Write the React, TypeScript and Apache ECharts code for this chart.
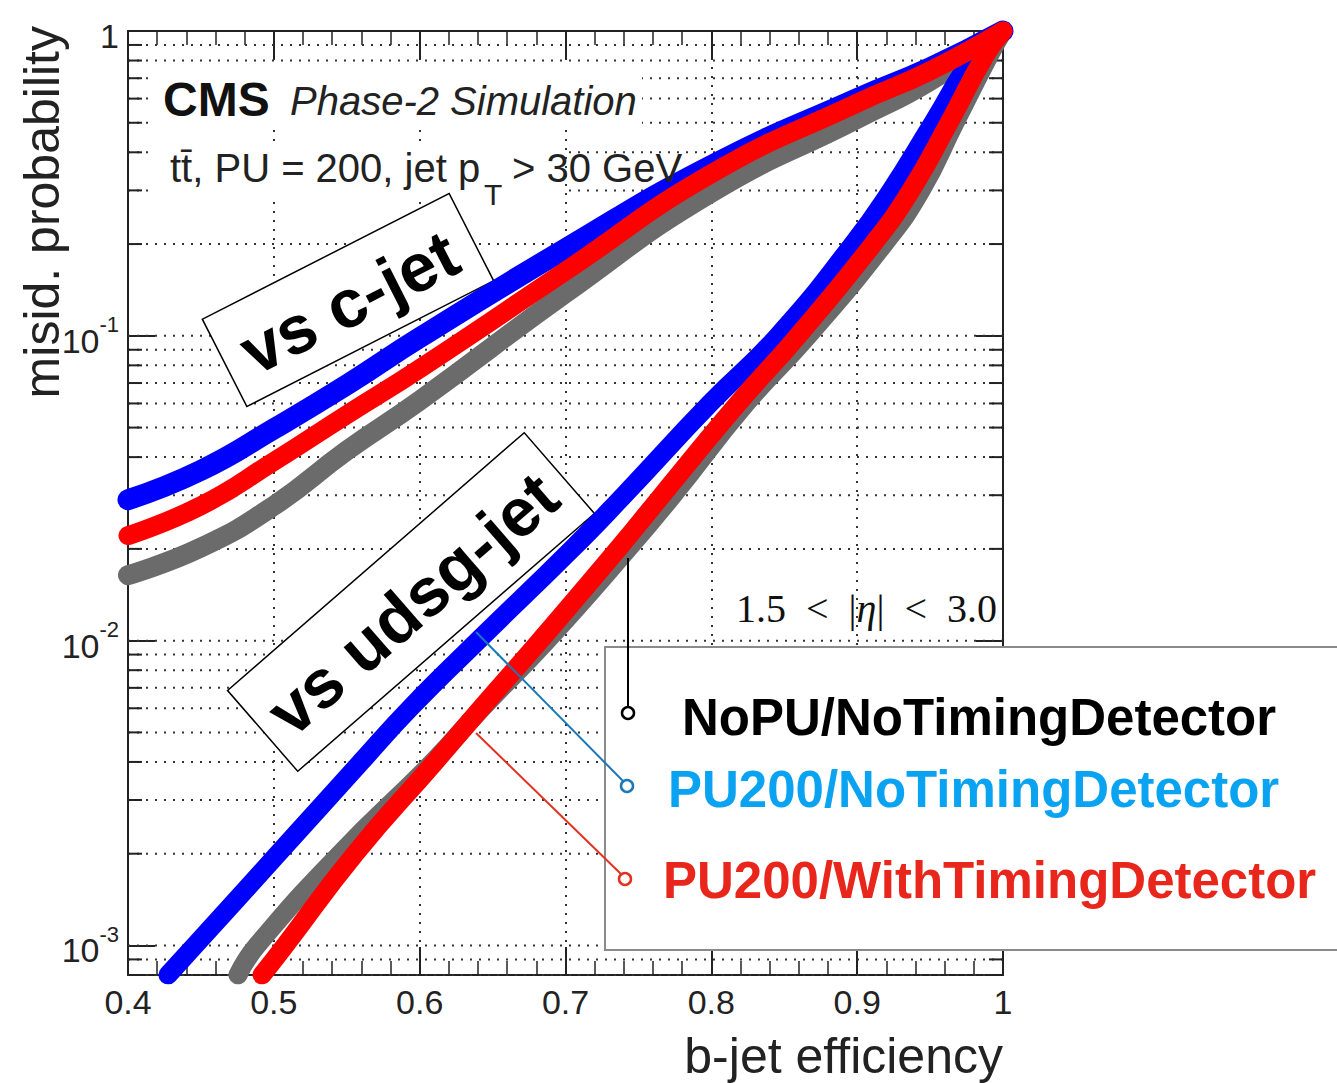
import React, { useEffect, useRef } from "react";
import * as echarts from "echarts";

const FONT = '"Liberation Sans", Arial, Helvetica, sans-serif';
const SERIF = '"Liberation Serif", "DejaVu Serif", serif';

// ---- ROC curves: b-jet efficiency vs mis-identification probability ----
// c-jet curves share one efficiency grid
const cjetEff = [0.40, 0.45, 0.50, 0.55, 0.60, 0.70, 0.80, 0.90, 0.95, 1.00];
const cjetMisidNoPU = [0.0164, 0.0202, 0.0277, 0.042, 0.0613, 0.138, 0.295, 0.515, 0.686, 1.0];
const cjetMisidPU200 = [0.029, 0.0362, 0.0495, 0.069, 0.0986, 0.193, 0.362, 0.60, 0.757, 1.0];
const cjetMisidPU200Timing = [0.0221, 0.0277, 0.0387, 0.0551, 0.078, 0.163, 0.34, 0.58, 0.74, 1.0];

// udsg curves share one mis-identification grid
const udsgMisid = [0.0008, 0.001, 0.002, 0.004, 0.006, 0.01, 0.02, 0.03, 0.06, 0.1, 0.2, 0.3, 0.5, 0.84, 1.0];
const udsgEffNoPU = [0.4754, 0.4885, 0.5454, 0.6091, 0.6427, 0.6873, 0.7429, 0.7737, 0.8238, 0.8663, 0.9184, 0.9438, 0.9671, 0.9911, 1.0];
const udsgEffPU200 = [0.4274, 0.4459, 0.5029, 0.5598, 0.5934, 0.64, 0.7045, 0.7401, 0.7991, 0.8457, 0.8971, 0.9232, 0.952, 0.9815, 1.0];
const udsgEffPU200Timing = [0.4919, 0.5077, 0.5557, 0.6105, 0.6421, 0.6825, 0.736, 0.7662, 0.8183, 0.8594, 0.9109, 0.9369, 0.963, 0.9883, 1.0];

// ---- axes ----
const effMin = 0.4;
const effMax = 1.0;
const effStep = 0.1;
const misidMin = 0.0008;
const misidMax = 1;
const decades = [-4, -3, -2, -1];
const minorMultipliers = [1, 2, 3, 4, 5, 6, 7, 8, 9];

const legendLabels = ["NoPU/NoTimingDetector", "PU200/NoTimingDetector", "PU200/WithTimingDetector"];
const COLORS = { noPU: "#6b6b6b", pu200: "#0000ff", timing: "#ff0000" };

const isPow10 = (v: number) => {
  const e = Math.log10(v);
  return Math.abs(e - Math.round(e)) < 1e-6;
};

// horizontal dotted grid + minor ticks at 2..9 x 10^k
const yGridValues = decades
  .flatMap((d) => minorMultipliers.map((m) => m * Math.pow(10, d)))
  .filter((v) => v >= misidMin && v < misidMax);

function band(name: string, data: number[][], color: string, width: number, clip: boolean) {
  return {
    name,
    type: "line",
    data,
    z: 3,
    smooth: 0.5,
    clip,
    symbol: "none",
    silent: true,
    lineStyle: { color, width, cap: "round", join: "round" },
    emphasis: { disabled: true },
  };
}

const cjetPairs = (ys: number[]) => cjetEff.map((x, i) => [x, ys[i]]);
const udsgPairs = (xs: number[]) => udsgMisid.map((y, i) => [xs[i], y]);

function txt(x: number, y: number, text: string, font: string, fill: string, align = "left", z = 4, extra: any = {}) {
  return {
    type: "text",
    x,
    y,
    z,
    silent: true,
    ...extra,
    style: {
      text,
      font,
      fill,
      align,
      verticalAlign: "middle",
      textAlign: align,
      textVerticalAlign: "middle",
    },
  };
}

function rotatedBox(cx: number, cy: number, w: number, h: number, deg: number, label: string, size: number) {
  return {
    type: "group",
    x: cx,
    y: cy,
    rotation: (deg * Math.PI) / 180,
    z: 2,
    silent: true,
    children: [
      {
        type: "rect",
        z: 2,
        shape: { x: -w / 2, y: -h / 2, width: w, height: h },
        style: { fill: "#fff", stroke: "#000", lineWidth: 1.5 },
      },
      {
        type: "text",
        z: 2,
        x: 0,
        y: 2,
        style: {
          text: label,
          font: `bold ${size}px ${FONT}`,
          fill: "#000",
          align: "center",
          verticalAlign: "middle",
          textAlign: "center",
          textVerticalAlign: "middle",
        },
      },
    ],
  };
}

const axisLineStyle = { color: "#222", width: 2 };

const option: any = {
  animation: false,
  backgroundColor: "#fff",
  grid: { left: 128, right: 334, top: 31, bottom: 108, containLabel: false, outerBoundsMode: "none" },
  xAxis: [
    {
      type: "value",
      min: effMin,
      max: effMax,
      interval: effStep,
      position: "bottom",
      axisLine: { show: true, onZero: false, lineStyle: axisLineStyle },
      axisTick: { show: true, inside: true, length: 28, lineStyle: { color: "#222", width: 2 } },
      minorTick: { show: true, splitNumber: 5, length: 14, lineStyle: { color: "#222", width: 1.5 } },
      splitLine: { show: true, lineStyle: { color: "#333", width: 2, type: [2, 7] } },
      minorSplitLine: { show: false },
      axisLabel: {
        fontSize: 34,
        color: "#222",
        fontFamily: FONT,
        margin: 10,
        formatter: (v: number) => (Math.abs(v - 1) < 1e-9 ? "1" : v.toFixed(1)),
      },
    },
    {
      type: "value",
      min: effMin,
      max: effMax,
      interval: effStep,
      position: "top",
      axisLine: { show: true, onZero: false, lineStyle: axisLineStyle },
      axisTick: { show: true, inside: true, length: 28, lineStyle: { color: "#222", width: 2 } },
      minorTick: { show: true, splitNumber: 5, length: 14, lineStyle: { color: "#222", width: 1.5 } },
      splitLine: { show: false },
      axisLabel: { show: false },
    },
  ],
  yAxis: [
    {
      type: "log",
      logBase: 10,
      min: misidMin,
      max: misidMax,
      position: "left",
      axisLine: { show: true, onZero: false, lineStyle: axisLineStyle },
      axisTick: { show: true, inside: true, length: 27, lineStyle: { color: "#222", width: 2 } },
      splitLine: { show: false },
      minorTick: { show: false },
      axisLabel: {
        margin: 9,
        color: "#222",
        fontFamily: FONT,
        formatter: (v: number) => {
          if (!isPow10(v)) return "";
          const e = Math.round(Math.log10(v));
          return e === 0 ? "{b|1}" : `{b|10}{s|${e}}`;
        },
        rich: {
          b: { fontSize: 34, lineHeight: 44, verticalAlign: "bottom", fontFamily: FONT, color: "#222" },
          s: { fontSize: 22, lineHeight: 16, verticalAlign: "top", fontFamily: FONT, color: "#222" },
        },
      },
    },
    {
      type: "log",
      logBase: 10,
      min: misidMin,
      max: misidMax,
      position: "right",
      axisLine: { show: true, onZero: false, lineStyle: axisLineStyle },
      axisTick: { show: true, inside: true, length: 27, lineStyle: { color: "#222", width: 2 } },
      splitLine: { show: false },
      minorTick: { show: false },
      axisLabel: { show: false },
    },
  ],
  series: [
    {
      type: "custom",
      name: "misid grid",
      z: 1,
      silent: true,
      clip: false,
      data: yGridValues.map((v) => [effMin, v]),
      renderItem: (_params: any, api: any) => {
        const v = api.value(1);
        const l = api.coord([effMin, v]);
        const r = api.coord([effMax, v]);
        const children: any[] = [
          {
            type: "line",
            shape: { x1: l[0], y1: l[1], x2: r[0], y2: r[1] },
            style: { stroke: "#333", lineWidth: 2, lineDash: [2, 7] },
          },
        ];
        if (!isPow10(v)) {
          children.push(
            { type: "line", shape: { x1: l[0], y1: l[1], x2: l[0] + 14, y2: l[1] }, style: { stroke: "#222", lineWidth: 2 } },
            { type: "line", shape: { x1: r[0] - 14, y1: r[1], x2: r[0], y2: r[1] }, style: { stroke: "#222", lineWidth: 2 } }
          );
        }
        return { type: "group", children };
      },
    },
    band("c-jet NoPU", cjetPairs(cjetMisidNoPU), COLORS.noPU, 20, false),
    band("udsg NoPU", udsgPairs(udsgEffNoPU), COLORS.noPU, 19, true),
    band("c-jet PU200", cjetPairs(cjetMisidPU200), COLORS.pu200, 21, false),
    band("udsg PU200", udsgPairs(udsgEffPU200), COLORS.pu200, 19, true),
    band("c-jet PU200 timing", cjetPairs(cjetMisidPU200Timing), COLORS.timing, 19, false),
    band("udsg PU200 timing", udsgPairs(udsgEffPU200Timing), COLORS.timing, 19, true),
  ],
  graphic: {
    elements: [
      // white backing behind the header lines
      { type: "rect", z: 2, silent: true, shape: { x: 150, y: 66, width: 492, height: 60 }, style: { fill: "#fff" } },
      { type: "rect", z: 2, silent: true, shape: { x: 150, y: 143, width: 412, height: 54 }, style: { fill: "#fff" } },
      txt(163, 99, "CMS", `bold 48px ${FONT}`, "#111"),
      txt(290, 101, "Phase-2 Simulation", `italic 40px ${FONT}`, "#222"),
      txt(170, 168, "tt\u0304, PU = 200, jet p", `40px ${FONT}`, "#222"),
      txt(484, 194, "T", `30px ${FONT}`, "#222"),
      txt(512, 168, "> 30 GeV", `40px ${FONT}`, "#222"),
      // region label
      {
        type: "text",
        x: 997,
        y: 608,
        z: 4,
        silent: true,
        style: {
          text: "1.5\u2002<\u2002|{i|\u03b7}|\u2002<\u20023.0",
          font: `40px ${SERIF}`,
          fill: "#111",
          align: "right",
          verticalAlign: "middle",
          textAlign: "right",
          textVerticalAlign: "middle",
          rich: { i: { fontFamily: SERIF, fontStyle: "italic", fontSize: 40, fill: "#111", color: "#111" } },
        },
      },
      rotatedBox(348, 300, 277, 98, 27, "vs c-jet", 68),
      rotatedBox(411, 602, 393, 107, 41, "vs udsg-jet", 68),
      // axis titles
      txt(42, 26, "misid. probability", `50px ${FONT}`, "#222", "right", 4, { rotation: Math.PI / 2 }),
      txt(1003, 1056, "b-jet efficiency", `50px ${FONT}`, "#222", "right"),
      // legend box
      {
        type: "rect",
        z: 5,
        silent: true,
        shape: { x: 605, y: 647, width: 760, height: 303 },
        style: { fill: "#fff", stroke: "#8a8a8a", lineWidth: 2 },
      },
      txt(682, 717, legendLabels[0], `bold 51px ${FONT}`, "#000", "left", 6),
      txt(668, 789, legendLabels[1], `bold 51px ${FONT}`, "#0aa3f2", "left", 6),
      txt(663, 880, legendLabels[2], `bold 51px ${FONT}`, "#e8261c", "left", 6),
      // connectors from the curves to the legend entries
      { type: "line", z: 7, silent: true, shape: { x1: 628, y1: 558, x2: 628, y2: 707 }, style: { stroke: "#000", lineWidth: 2 } },
      { type: "circle", z: 7, silent: true, shape: { cx: 628, cy: 713, r: 6 }, style: { fill: "#fff", stroke: "#000", lineWidth: 2.5 } },
      { type: "line", z: 7, silent: true, shape: { x1: 476, y1: 632, x2: 623, y2: 781 }, style: { stroke: "#1b78b8", lineWidth: 2 } },
      { type: "circle", z: 7, silent: true, shape: { cx: 627, cy: 786, r: 6 }, style: { fill: "#fff", stroke: "#1b78b8", lineWidth: 2.5 } },
      { type: "line", z: 7, silent: true, shape: { x1: 476, y1: 733, x2: 621, y2: 874 }, style: { stroke: "#e2311f", lineWidth: 2 } },
      { type: "circle", z: 7, silent: true, shape: { cx: 625, cy: 879, r: 6 }, style: { fill: "#fff", stroke: "#e2311f", lineWidth: 2.5 } },
    ],
  },
};

export default function App() {
  const ref = useRef<HTMLDivElement>(null);
  useEffect(() => {
    if (!ref.current) return;
    const chart = echarts.init(ref.current, undefined, { renderer: "svg" });
    chart.setOption(option);
    return () => chart.dispose();
  }, []);
  return (
    <div
      ref={ref}
      style={{ position: "fixed", left: 0, top: 0, width: 1337, height: 1083, background: "#fff" }}
    />
  );
}
